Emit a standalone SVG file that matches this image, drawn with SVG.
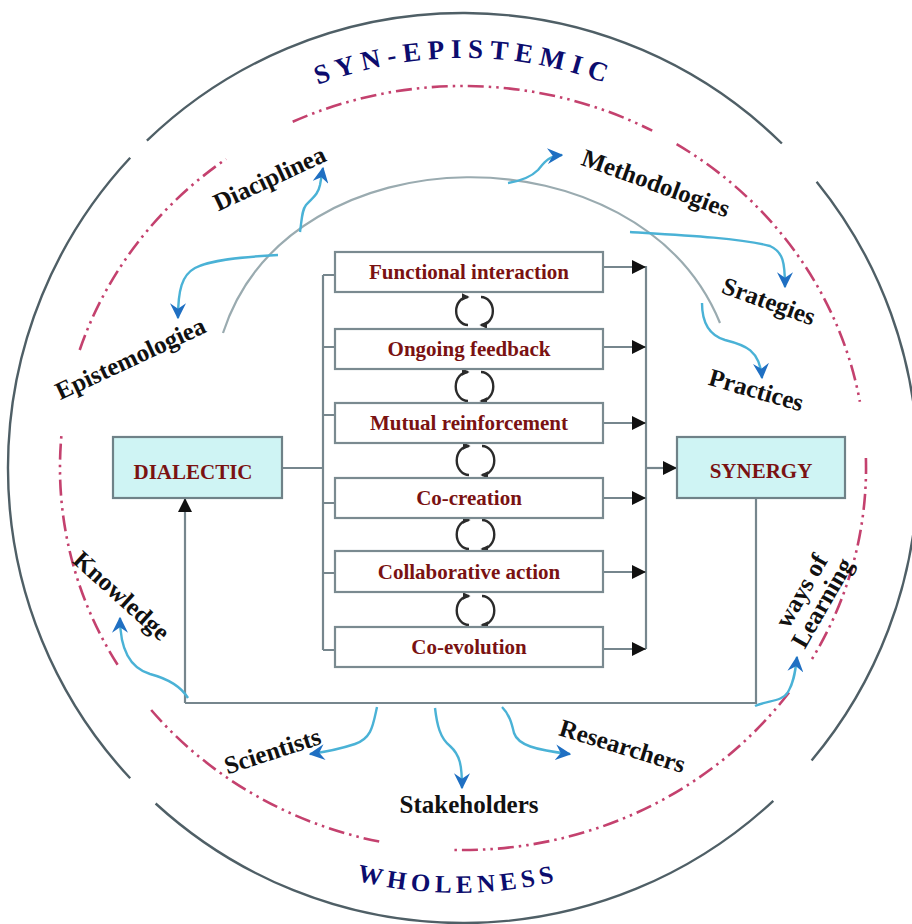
<svg xmlns="http://www.w3.org/2000/svg" width="912" height="924" viewBox="0 0 912 924">
<defs>
<style>
.outer{fill:none;stroke:#4f5f66;stroke-width:2.4}
.dash{fill:none;stroke:#c4416e;stroke-width:2.6;stroke-dasharray:16 5 2.5 5 2.5 5}
.arch{fill:none;stroke:#9aabb0;stroke-width:2.2}
.ln{fill:none;stroke:#76868d;stroke-width:2.2}
.box{fill:#ffffff;stroke:#7a8a90;stroke-width:2.2}
.hub{fill:#cff4f4;stroke:#6f8288;stroke-width:2.2}
.blab{font-family:"Liberation Serif","Times New Roman",serif;font-weight:bold;font-size:21px;fill:#7a1212;text-anchor:middle}
.lab{font-family:"Liberation Serif","Times New Roman",serif;font-weight:bold;font-size:25px;fill:#111;text-anchor:middle}
.ttl{font-family:"Liberation Serif","Times New Roman",serif;font-weight:bold;fill:#0c0c6e}
.blue{fill:none;stroke:#4ab2d6;stroke-width:2.4;marker-end:url(#ba)}
.cyc{fill:none;stroke:#2b2b2b;stroke-width:2.4;marker-end:url(#ca)}
.arr{marker-end:url(#ka)}
</style>
<marker id="ka" markerUnits="userSpaceOnUse" markerWidth="14" markerHeight="14" viewBox="0 0 12 12" refX="12" refY="6" orient="auto"><path d="M0,0 L12,6 L0,12 z" fill="#111"/></marker>
<marker id="ba" markerUnits="userSpaceOnUse" markerWidth="16" markerHeight="16" viewBox="0 0 12 12" refX="11" refY="6" orient="auto"><path d="M0,0 L12,6 L0,12 L4,6 z" fill="#1f6fc2"/></marker>
<marker id="ca" markerUnits="userSpaceOnUse" markerWidth="8" markerHeight="8" viewBox="0 0 10 10" refX="8" refY="5" orient="auto"><path d="M0,0 L10,5 L0,10 z" fill="#2b2b2b"/></marker>
<path id="topArc" d="M54,468 A410,410 0 0 1 874,468"/>
<path id="botArc" d="M33,468 A425,425 0 0 0 883,468"/>
</defs>

<g id="outer-ring">
<path class="outer" d="M146.9,140.7 A455,455 0 0 1 781.9,143.5"/>
<path class="outer" d="M816.6,181.7 A455,455 0 0 1 811.6,760.5"/>
<path class="outer" d="M773.3,800.8 A455,455 0 0 1 155.6,803.5"/>
<path class="outer" d="M130.2,778.3 A455,455 0 0 1 130.2,157.7"/>
</g>

<g id="dash-ring">
<path class="dash" d="M292.7,121.8 A403,382 0 0 1 652.2,130.7"/>
<path class="dash" d="M676.6,144.1 A403,382 0 0 1 859.9,401.7"/>
<path class="dash" d="M865.9,458 A403,382 0 0 1 812,659"/>
<path class="dash" d="M789,692.5 A403,382 0 0 1 452.4,849.9"/>
<path class="dash" d="M379.2,841.6 A403,382 0 0 1 149.8,708.4"/>
<path class="dash" d="M117.6,664.7 A403,382 0 0 1 61.5,434.7"/>
<path class="dash" d="M79.7,350 A403,382 0 0 1 226.1,159"/>
</g>

<g id="titles">
<text class="ttl" font-size="27" letter-spacing="6.5"><textPath href="#topArc" startOffset="50%" text-anchor="middle">SYN-EPISTEMIC</textPath></text>
<text class="ttl" font-size="25" letter-spacing="5"><textPath href="#botArc" startOffset="50%" text-anchor="middle">WHOLENESS</textPath></text>
</g>

<g id="arch">
<path class="arch" d="M223,333 C290,127 640,127 720,323"/>
</g>

<g id="connectors">
<path class="ln" d="M323,275 V650"/>
<path class="ln" d="M323,275 H335 M323,347 H335 M323,415 H335 M323,503 H335 M323,573 H335 M323,650 H335"/>
<path class="ln" d="M282,468 H323"/>
<path class="ln" d="M646,266 V649"/>
<path class="ln arr" d="M603,267 H646"/>
<path class="ln arr" d="M603,347 H646"/>
<path class="ln arr" d="M603,423 H646"/>
<path class="ln arr" d="M603,498 H646"/>
<path class="ln arr" d="M603,572 H646"/>
<path class="ln arr" d="M603,649 H646"/>
<path class="ln arr" d="M646,468 H677"/>
<path class="ln arr" d="M185,703 V498"/>
<path class="ln" d="M185,703 H756 V498"/>
<path class="cyc" d="M468,325 A11,13 0 0 1 468,297"/>
<path class="cyc" d="M481,297 A11,13 0 0 1 481,325"/>
<path class="cyc" d="M468,401 A11,13 0 0 1 468,372"/>
<path class="cyc" d="M481,372 A11,13 0 0 1 481,401"/>
<path class="cyc" d="M469,475 A11,13 0 0 1 469,446"/>
<path class="cyc" d="M482,446 A11,13 0 0 1 482,475"/>
<path class="cyc" d="M469,549 A11,13 0 0 1 469,520"/>
<path class="cyc" d="M482,520 A11,13 0 0 1 482,549"/>
<path class="cyc" d="M469,625 A11,13 0 0 1 469,596"/>
<path class="cyc" d="M482,596 A11,13 0 0 1 482,625"/>
</g>

<g id="blue-arrows">
<path class="blue" d="M300,232 C302,218 302,210 306,205 C312,198 318,195 320,185 L323,168"/>
<path class="blue" d="M278,255 C240,257 210,260 195,268 C182,275 178,290 178,318"/>
<path class="blue" d="M508,183 C520,181 530,178 538,170 C544,163 548,156 562,155"/>
<path class="blue" d="M630,232 C680,235 740,238 770,246 C783,252 785,262 785,287"/>
<path class="blue" d="M702,303 C702,320 708,335 725,340 C745,345 760,350 762,378"/>
<path class="blue" d="M188,698 C180,685 165,678 150,674 C130,668 120,650 120,618"/>
<path class="blue" d="M755,706 C768,700 782,702 788,692 C793,684 795,675 797,657"/>
<path class="blue" d="M377,707 C373,725 372,738 355,744 C340,749 325,752 310,754"/>
<path class="blue" d="M435,708 C437,725 440,738 450,746 C460,755 462,765 462,788"/>
<path class="blue" d="M502,707 C510,715 512,725 514,733 C518,745 535,750 570,754"/>
</g>

<g id="dialectic"><rect class="hub" x="113" y="437" width="169" height="61"/><text class="blab" x="193" y="479">DIALECTIC</text></g>
<g id="synergy"><rect class="hub" x="677" y="437" width="168" height="61"/><text class="blab" x="761" y="478">SYNERGY</text></g>

<g id="functional-interaction"><rect class="box" x="335" y="252" width="268" height="40"/><text class="blab" x="469" y="279">Functional interaction</text></g>
<g id="ongoing-feedback"><rect class="box" x="335" y="329" width="268" height="40"/><text class="blab" x="469" y="356">Ongoing feedback</text></g>
<g id="mutual-reinforcement"><rect class="box" x="335" y="403" width="268" height="40"/><text class="blab" x="469" y="430">Mutual reinforcement</text></g>
<g id="co-creation"><rect class="box" x="335" y="478" width="268" height="40"/><text class="blab" x="469" y="505">Co-creation</text></g>
<g id="collaborative-action"><rect class="box" x="335" y="551" width="268" height="41"/><text class="blab" x="469" y="579">Collaborative action</text></g>
<g id="co-evolution"><rect class="box" x="335" y="627" width="268" height="40"/><text class="blab" x="469" y="654">Co-evolution</text></g>

<g id="label-diaciplinea"><text class="lab" transform="translate(273,186) rotate(-25)">Diaciplinea</text></g>
<g id="label-epistemologiea"><text class="lab" transform="translate(134,366) rotate(-25)">Epistemologiea</text></g>
<g id="label-methodologies"><text class="lab" transform="translate(653,191) rotate(20)">Methodologies</text></g>
<g id="label-srategies"><text class="lab" transform="translate(766,309) rotate(20)">Srategies</text></g>
<g id="label-practices"><text class="lab" transform="translate(754,398) rotate(16)">Practices</text></g>
<g id="label-knowledge"><text class="lab" transform="translate(116,602) rotate(42)">Knowledge</text></g>
<g id="label-ways-of-learning"><g transform="translate(812,597) rotate(-60)"><text class="lab" x="0" y="-4">ways of</text><text class="lab" x="0" y="20">Learning</text></g></g>
<g id="label-scientists"><text class="lab" transform="translate(275,759) rotate(-18)">Scientists</text></g>
<g id="label-stakeholders"><text class="lab" x="469" y="813">Stakeholders</text></g>
<g id="label-researchers"><text class="lab" transform="translate(620,754) rotate(17)">Researchers</text></g>
</svg>
